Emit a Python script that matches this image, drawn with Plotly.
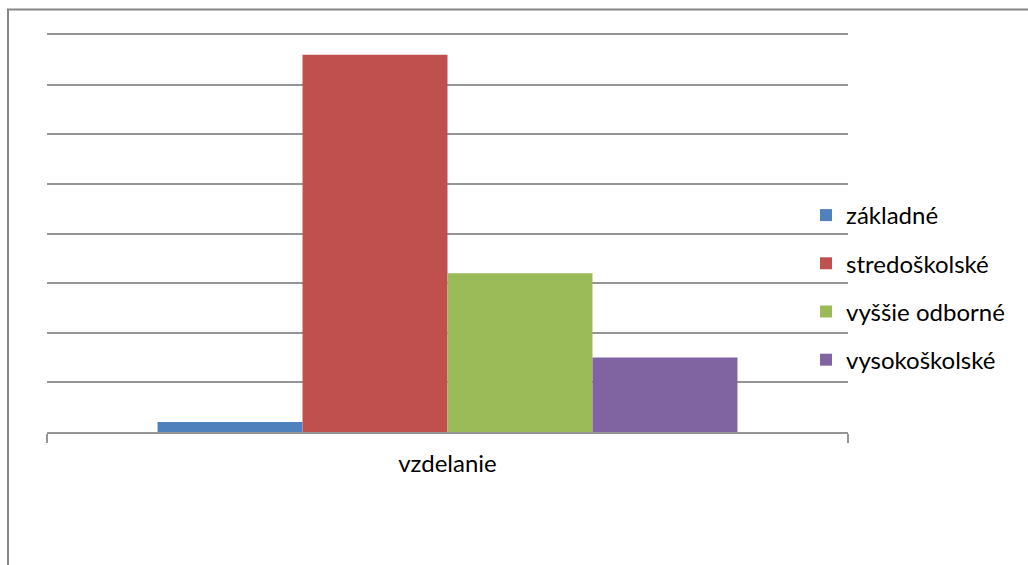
import plotly.graph_objects as go

# Education level shares, one category with four series
category = ["vzdelanie"]
series_names = ["základné", "stredoškolské", "vyššie odborné", "vysokoškolské"]
series_values = [0.2, 7.6, 3.2, 1.5]
series_colors = ["#4F81BD", "#C0504D", "#9BBB59", "#8064A2"]

fig = go.Figure()
for name, val, col in zip(series_names, series_values, series_colors):
    fig.add_trace(go.Bar(
        x=category, y=[val], name=name, legendgroup=name,
        marker=dict(color=col, line=dict(width=0)),
    ))

font_family = "Lato, 'Open Sans', sans-serif"
grid_color = "#959595"

fig.update_layout(
    width=1028, height=565,
    margin=dict(l=47, r=180, t=35, b=133),
    paper_bgcolor="white", plot_bgcolor="white",
    barmode="group", bargap=0.276, bargroupgap=0,
    font=dict(family=font_family, size=24, color="#000000"),
    showlegend=True,
    legend=dict(
        x=0.9476, xanchor="left", y=0.364, yanchor="middle",
        font=dict(family=font_family, size=24, color="#000000"),
        itemwidth=30, tracegroupgap=14,
        bgcolor="rgba(0,0,0,0)",
    ),
    xaxis=dict(
        type="category", tickson="boundaries",
        ticks="outside", ticklen=9, tickcolor=grid_color, tickwidth=2,
        showline=True, linecolor=grid_color, linewidth=2, mirror=True,
        showgrid=False, zeroline=False, ticklabelstandoff=9,
        tickfont=dict(family=font_family, size=24, color="#000000"),
    ),
    yaxis=dict(
        range=[0, 8], dtick=1,
        showgrid=True, gridcolor=grid_color, gridwidth=1.5,
        showticklabels=False, ticks="", zeroline=False, showline=False,
    ),
    shapes=[
        dict(type="rect", xref="paper", yref="paper",
             x0=-0.0487, x1=1.26, y0=-0.45, y1=1.0642,
             line=dict(color="#868686", width=2), fillcolor="rgba(0,0,0,0)",
             layer="below"),
    ],
)

fig.write_html("out.html")
